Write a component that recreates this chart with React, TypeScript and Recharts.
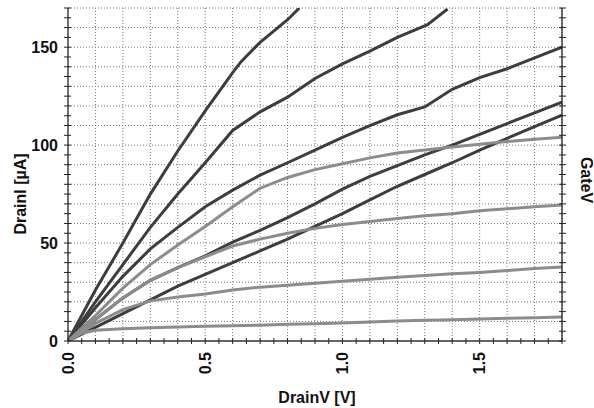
import React from "react";
import { LineChart, Line, XAxis, YAxis, CartesianGrid, Label } from "recharts";

const vGrid = [0, 0.1, 0.2, 0.3, 0.4, 0.5, 0.6, 0.7, 0.8, 0.9, 1.0, 1.1, 1.2, 1.3, 1.4, 1.5, 1.6, 1.7, 1.8];

const vA = [0, 0.1, 0.2, 0.3, 0.4, 0.5, 0.6, 0.63, 0.7, 0.8, 0.843];
const iA = [0, 26, 50, 75, 97, 117.5, 137, 142.5, 152.5, 164, 170];

const vB = [0, 0.1, 0.2, 0.3, 0.4, 0.5, 0.6, 0.7, 0.8, 0.9, 1.0, 1.1, 1.2, 1.31, 1.383];
const iB = [0, 20, 39, 58, 75, 91, 107.5, 117, 124.5, 134, 141.5, 148, 155, 161.5, 169.5];

const iC = [0, 17, 33, 47, 58, 68.5, 77, 84.7, 91, 97.5, 104, 110, 115.5, 119.5, 128.5, 134.5, 139, 144.5, 150];
const iD = [0, 11, 22, 31, 37.5, 43.5, 50.5, 56.5, 63, 70, 77.5, 84, 89.5, 95, 100, 105.5, 111, 116.5, 122];
const iE = [0, 7, 14, 21, 28, 34, 40, 46, 52, 58.5, 65, 72, 79, 85, 91, 97.5, 103.5, 109.5, 115.3];
const iF = [0, 13, 27, 39, 49, 58.5, 68.5, 78, 83.5, 87.5, 90.5, 93.5, 96, 97.5, 99, 100.5, 101.8, 103, 104];
const iG = [0, 11, 22, 31, 37.5, 43, 48.5, 52, 55, 57.5, 59.5, 61, 62.5, 64, 65, 66.5, 67.5, 68.5, 69.4];
const iH = [0, 9, 16, 20.5, 22.5, 24, 26, 27.5, 28.5, 29.5, 30.5, 31.5, 32.5, 33.5, 34.3, 35, 36, 37, 37.8];

const vI = [0, 0.05, 0.1, 0.2, 0.3, 0.4, 0.5, 0.6, 0.7, 0.8, 0.9, 1.0, 1.1, 1.2, 1.3, 1.4, 1.5, 1.6, 1.7, 1.8];
const iI = [0, 4, 5.5, 6.3, 6.8, 7.2, 7.5, 7.8, 8.1, 8.5, 8.8, 9.2, 9.7, 10.2, 10.6, 10.9, 11.2, 11.6, 11.9, 12.2];

const X_MAX = 1.8;
const Y_MAX = 170;
const xLabelTicks = [0, 0.5, 1.0, 1.5];
const yLabelTicks = [0, 50, 100, 150];
const xMinorTicks = Array.from({ length: 37 }, (_, k) => Math.round(k * 5) / 100);
const yMinorTicks = Array.from({ length: 35 }, (_, k) => k * 5);
const xGridValues = Array.from({ length: 18 }, (_, k) => Math.round((k + 1) * 10) / 100);
const yGridValues = Array.from({ length: 17 }, (_, k) => (k + 1) * 10);

const mk = (vs: number[], is: number[]) => vs.map((v, k) => ({ v, i: is[k] }));

const darkSeries = [mk(vA, iA), mk(vB, iB), mk(vGrid, iC), mk(vGrid, iD), mk(vGrid, iE)];
const lightSeries = [mk(vGrid, iF), mk(vGrid, iG), mk(vGrid, iH)];
const seriesI = mk(vI, iI);

const DARK = "#3d3d3d";
const LIGHT = "#8c8c8c";
const FONT = "'Liberation Sans', Arial, sans-serif";

const isLabelX = (v: number) => xLabelTicks.some((t) => Math.abs(t - v) < 1e-6);
const isLabelY = (v: number) => yLabelTicks.some((t) => Math.abs(t - v) < 1e-6);

const XTick = (props: any) => {
  const { x, y, payload } = props;
  const v = payload.value;
  return (
    <g>
      <line x1={x} x2={x} y1={y - 3} y2={y + 3} stroke="#222" strokeWidth={1} />
      {isLabelX(v) && (
        <text
          x={x}
          y={y + 11}
          transform={`rotate(-90, ${x}, ${y + 11})`}
          textAnchor="end"
          dominantBaseline="central"
          fontFamily={FONT}
          fontWeight="bold"
          fontSize={16}
          fill="#111"
        >
          {v.toFixed(1)}
        </text>
      )}
    </g>
  );
};

const YTick = (props: any) => {
  const { x, y, payload } = props;
  const v = payload.value;
  return (
    <g>
      <line x1={x - 4} x2={x + 3} y1={y} y2={y} stroke="#222" strokeWidth={1} />
      {isLabelY(v) && (
        <text
          x={x - 10}
          y={y}
          textAnchor="end"
          dominantBaseline="central"
          fontFamily={FONT}
          fontWeight="bold"
          fontSize={16}
          fill="#111"
        >
          {v}
        </text>
      )}
    </g>
  );
};

const RTick = (props: any) => {
  const { x, y } = props;
  return <line x1={x - 3} x2={x + 4} y1={y} y2={y} stroke="#222" strokeWidth={1} />;
};

const vGen = ({ xAxis, offset }: any) =>
  xGridValues.map((v) =>
    xAxis && typeof xAxis.scale === "function" ? xAxis.scale(v) : offset.left + (v / X_MAX) * offset.width
  );
const hGen = ({ yAxis, offset }: any) =>
  yGridValues.map((v) =>
    yAxis && typeof yAxis.scale === "function" ? yAxis.scale(v) : offset.top + (1 - v / Y_MAX) * offset.height
  );

export default function App() {
  return (
    <div style={{ position: "absolute", left: 0, top: 0, background: "#fff" }}>
      <LineChart width={594} height={408} margin={{ top: 8, right: 0, bottom: 0, left: 0 }}>
        <CartesianGrid
          yAxisId="left"
          verticalCoordinatesGenerator={vGen}
          horizontalCoordinatesGenerator={hGen}
          stroke="#777"
          strokeDasharray="1 2"
          strokeWidth={1}
        />
        <XAxis
          dataKey="v"
          type="number"
          domain={[0, X_MAX]}
          allowDataOverflow
          ticks={xMinorTicks}
          interval={0}
          tickSize={0}
          tickMargin={0}
          tickLine={false}
          tick={<XTick />}
          axisLine={{ stroke: "#333", strokeWidth: 1.3 }}
          height={67}
        >
          <Label
            content={() => (
              <text x={317} y={403} textAnchor="middle" fontFamily={FONT} fontWeight="bold" fontSize={16} fill="#111">
                DrainV [V]
              </text>
            )}
          />
        </XAxis>
        <YAxis
          yAxisId="left"
          type="number"
          domain={[0, Y_MAX]}
          allowDataOverflow
          ticks={yMinorTicks}
          interval={0}
          tickSize={0}
          tickMargin={0}
          tickLine={false}
          tick={<YTick />}
          axisLine={{ stroke: "#222", strokeWidth: 1.3 }}
          width={68}
        >
          <Label
            content={() => (
              <text
                x={20}
                y={194}
                transform="rotate(-90, 20, 194)"
                textAnchor="middle"
                dominantBaseline="central"
                fontFamily={FONT}
                fontWeight="bold"
                fontSize={16}
                fill="#111"
              >
                DrainI [µA]
              </text>
            )}
          />
        </YAxis>
        <YAxis
          yAxisId="right"
          orientation="right"
          type="number"
          domain={[0, Y_MAX]}
          allowDataOverflow
          ticks={yMinorTicks}
          interval={0}
          tickSize={0}
          tickMargin={0}
          tickLine={false}
          tick={<RTick />}
          axisLine={{ stroke: "#222", strokeWidth: 1.3 }}
          width={32}
        >
          <Label
            content={() => (
              <text
                x={586}
                y={180}
                transform="rotate(90, 586, 180)"
                textAnchor="middle"
                dominantBaseline="central"
                fontFamily={FONT}
                fontWeight="bold"
                fontSize={16}
                fill="#111"
              >
                GateV
              </text>
            )}
          />
        </YAxis>
        {darkSeries.map((d, k) => (
          <Line
            key={"d" + k}
            yAxisId="left"
            data={d}
            dataKey="i"
            type="linear"
            stroke={DARK}
            strokeWidth={3}
            dot={false}
            activeDot={false}
            isAnimationActive={false}
          />
        ))}
        {lightSeries.map((d, k) => (
          <Line
            key={"l" + k}
            yAxisId="left"
            data={d}
            dataKey="i"
            type="linear"
            stroke={LIGHT}
            strokeWidth={3}
            dot={false}
            activeDot={false}
            isAnimationActive={false}
          />
        ))}
        <Line
          yAxisId="right"
          data={seriesI}
          dataKey="i"
          type="linear"
          stroke={LIGHT}
          strokeWidth={3}
          dot={false}
          activeDot={false}
          isAnimationActive={false}
        />
      </LineChart>
    </div>
  );
}
